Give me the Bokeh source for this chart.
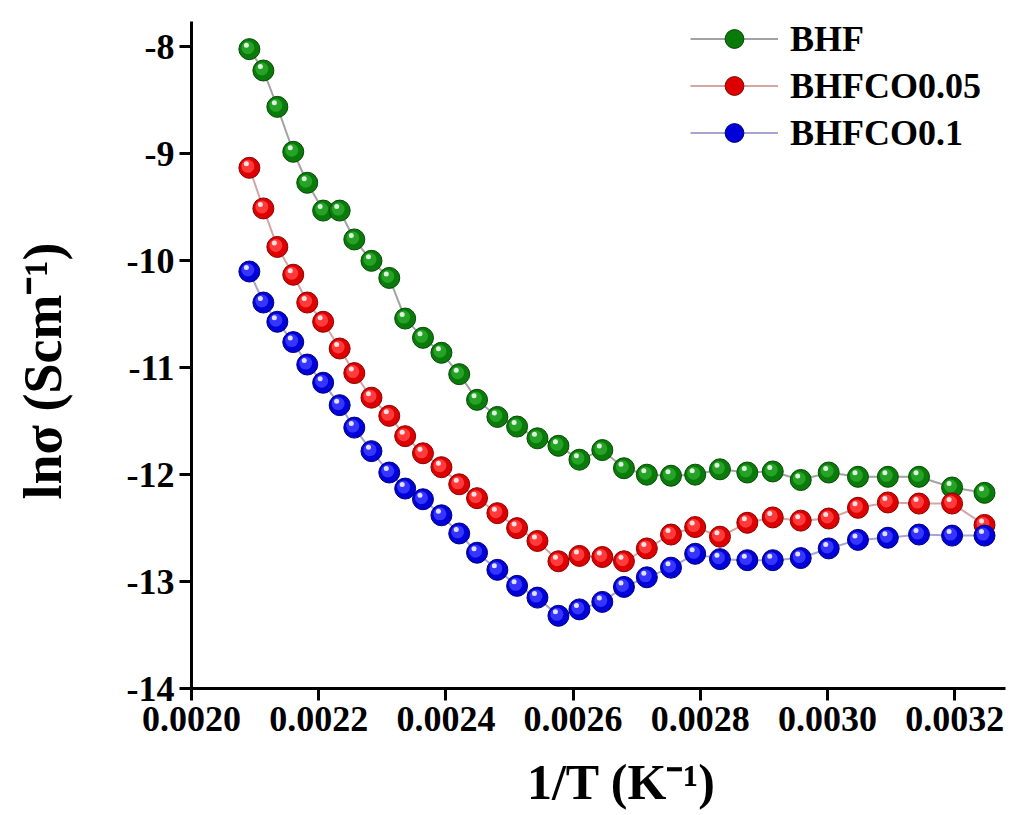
from bokeh.plotting import figure
from bokeh.models import (Range1d, FixedTicker, PrintfTickFormatter, Legend, LegendItem,
                          LinearAxis)
from bokeh.embed import file_html
from bokeh.resources import INLINE

# ---------------- data ----------------
inv_T = [0.002091, 0.002113, 0.002135, 0.002160, 0.002182, 0.002207, 0.002233,
         0.002256, 0.002283, 0.002311, 0.002336, 0.002364, 0.002393, 0.002421,
         0.002449, 0.002481, 0.002512, 0.002544, 0.002577, 0.002610, 0.002646,
         0.002680, 0.002716, 0.002754, 0.002792, 0.002831, 0.002874, 0.002914,
         0.002958, 0.003002, 0.003048, 0.003095, 0.003144, 0.003196, 0.003247]

ln_sigma_BHF = [-8.02, -8.22, -8.56, -8.98, -9.27, -9.53, -9.53, -9.80, -10.00,
                -10.16, -10.54, -10.72, -10.86, -11.06, -11.30, -11.46, -11.55,
                -11.66, -11.73, -11.86, -11.77, -11.94, -12.00, -12.01, -12.00,
                -11.95, -11.98, -11.97, -12.05, -11.98, -12.02, -12.02, -12.02,
                -12.12, -12.17]

ln_sigma_BHFCO005 = [-9.13, -9.51, -9.87, -10.13, -10.39, -10.57, -10.82, -11.05,
                     -11.28, -11.45, -11.64, -11.80, -11.93, -12.09, -12.22, -12.36,
                     -12.50, -12.62, -12.81, -12.76, -12.77, -12.81, -12.69, -12.56,
                     -12.49, -12.58, -12.45, -12.40, -12.43, -12.41, -12.31, -12.26,
                     -12.27, -12.27, -12.47]

ln_sigma_BHFCO01 = [-10.10, -10.39, -10.57, -10.76, -10.97, -11.14, -11.35, -11.56,
                    -11.78, -11.98, -12.13, -12.23, -12.38, -12.55, -12.73, -12.89,
                    -13.04, -13.15, -13.32, -13.26, -13.19, -13.05, -12.96, -12.87,
                    -12.74, -12.79, -12.80, -12.80, -12.78, -12.69, -12.61, -12.59,
                    -12.56, -12.57, -12.57]

series_names = ["BHF", "BHFCO0.05", "BHFCO0.1"]
x_ticks = [0.0020, 0.0022, 0.0024, 0.0026, 0.0028, 0.0030, 0.0032]
y_ticks = [-14, -13, -12, -11, -10, -9, -8]
x_title = "1/T (K\u207b\u00b9)"
y_title = "ln\u03c3 (Scm\u207b\u00b9)"
x_title_at = 0.002676   # where the reference centres its x title
y_title_at = -11.03     # where the reference centres its y title

# ---------------- figure ----------------
X0, X1 = 0.0020, 0.00328
Y0, Y1 = -14.0, -7.64
W, H = 1008, 813
ML, MR, MT, MB = 191, 3, 8, 125

p = figure(width=W, height=H, x_range=Range1d(X0, X1), y_range=Range1d(Y0, Y1),
           output_backend="svg", toolbar_location=None,
           min_border_left=ML, min_border_right=MR, min_border_top=MT, min_border_bottom=MB)
p.background_fill_color = "white"
p.border_fill_color = "white"
p.outline_line_color = None
p.xgrid.visible = False
p.ygrid.visible = False

# pixel <-> data conversion (fixed frame size)
frame_w = W - ML - MR
frame_h = H - MT - MB
dx_px = (X1 - X0) / frame_w
dy_px = (Y1 - Y0) / frame_h

FONT = "Liberation Serif"
for ax in (p.xaxis, p.yaxis):
    ax.axis_line_width = 3
    ax.axis_line_color = "black"
    ax.major_tick_line_width = 3
    ax.major_tick_out = 12
    ax.major_tick_in = 0
    ax.minor_tick_line_color = None
    ax.major_label_text_font = FONT
    ax.major_label_text_font_style = "bold"
    ax.major_label_text_font_size = "36px"
    ax.major_label_text_color = "black"

p.yaxis.bounds = (Y0, Y0 + 667 * dy_px)
p.xaxis.ticker = FixedTicker(ticks=x_ticks)
p.yaxis.ticker = FixedTicker(ticks=y_ticks)
p.xaxis.formatter = PrintfTickFormatter(format="%.4f")
p.yaxis.formatter = PrintfTickFormatter(format="%d")
p.xaxis.major_label_standoff = 6
p.yaxis.major_label_standoff = 5

# axis titles carried as the single tick label of tick-less companion axes,
# so they can sit off-centre exactly like the reference
common = dict(axis_line_color=None, major_tick_line_color=None, minor_tick_line_color=None,
              major_tick_out=0, major_tick_in=0, minor_tick_out=0, minor_tick_in=0,
              major_label_text_font=FONT, major_label_text_font_style="bold",
              major_label_text_color="black")
xt = LinearAxis(ticker=FixedTicker(ticks=[x_title_at]),
                major_label_overrides={x_title_at: x_title},
                major_label_text_font_size="50px", major_label_standoff=20, **common)
yt = LinearAxis(ticker=FixedTicker(ticks=[y_title_at]),
                major_label_overrides={y_title_at: y_title},
                major_label_orientation="vertical",
                major_label_text_font_size="54px", major_label_standoff=50, **common)
p.add_layout(xt, "below")
p.add_layout(yt, "left")

styles = [
    dict(line="#a3a3a3", edge="#034a03", base="#0a7a0a", mid="#26a326"),
    dict(line="#d3a5a5", edge="#8a0000", base="#dd0000", mid="#ff3a3a"),
    dict(line="#a5a5cf", edge="#00007a", base="#0000d8", mid="#3535ff"),
]
ys = [ln_sigma_BHF, ln_sigma_BHFCO005, ln_sigma_BHFCO01]

items = []
for name, y, st in zip(series_names, ys, styles):
    ln = p.line(inv_T, y, line_color=st["line"], line_width=2)
    base = p.scatter(inv_T, y, size=21, fill_color=st["base"], line_color=st["edge"], line_width=1)
    xm = [v - 1.5 * dx_px for v in inv_T]
    ym = [v + 1.5 * dy_px for v in y]
    p.scatter(xm, ym, size=13, fill_color=st["mid"], line_color=None)
    xh = [v - 3 * dx_px for v in inv_T]
    yh = [v + 4 * dy_px for v in y]
    p.scatter(xh, yh, size=5, fill_color="white", fill_alpha=0.85, line_color=None)
    items.append(LegendItem(label=name, renderers=[ln, base]))

legend = Legend(items=items, location=(499, 532), glyph_width=88, glyph_height=47,
                label_text_font=FONT, label_text_font_style="bold",
                label_text_font_size="36px", label_text_color="black",
                label_standoff=12, spacing=0, padding=0, margin=0,
                border_line_color=None, background_fill_alpha=0)
p.add_layout(legend)

open("out.html", "w").write(file_html(p, INLINE))
